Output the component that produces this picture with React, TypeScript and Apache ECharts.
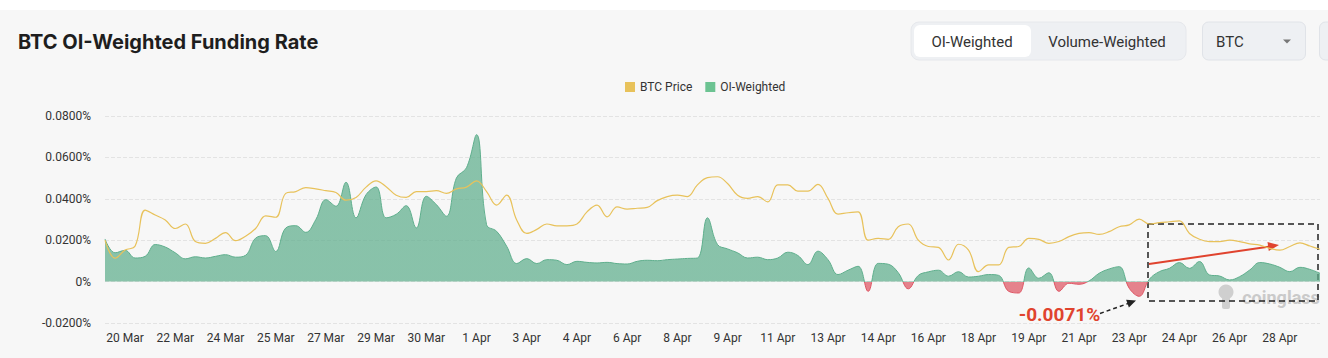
import React, { useEffect, useRef } from 'react';
import * as echarts from 'echarts';

// 8-hourly points, starting 20 Mar 00:00
const oiWeighted = [
  0.0206, 0.0139, 0.0151, 0.0114, 0.0122, 0.0179, 0.0167, 0.0139, 0.0110, 0.0120,
  0.0114, 0.0122, 0.0130, 0.0118, 0.0127, 0.0210, 0.0222, 0.0145, 0.0259, 0.0270,
  0.0238, 0.0300, 0.0396, 0.0364, 0.0480, 0.0308, 0.0420, 0.0457, 0.0308, 0.0325,
  0.0367, 0.0259, 0.0412, 0.0372, 0.0316, 0.0501, 0.0550, 0.0710, 0.0275, 0.0243,
  0.0171, 0.0087, 0.0111, 0.0087, 0.0106, 0.0103, 0.0082, 0.0098, 0.0093, 0.0090,
  0.0093, 0.0087, 0.0085, 0.0098, 0.0103, 0.0101, 0.0106, 0.0109, 0.0112, 0.0114,
  0.0308, 0.0179, 0.0158, 0.0139, 0.0114, 0.0118, 0.0106, 0.0114, 0.0142, 0.0126,
  0.0082, 0.0147, 0.0106, 0.0034, 0.0055, 0.0074, -0.0047, 0.0088, 0.0084, 0.0043,
  -0.0035, 0.0030, 0.0047, 0.0055, 0.0026, 0.0048, 0.0022, 0.0026, 0.0034, 0.0030,
  -0.0047, -0.0055, 0.0066, 0.0016, 0.0043, -0.0047, -0.0008, -0.0013, 0.0003, 0.0040,
  0.0061, 0.0072, -0.0032, -0.0071, 0.0011, 0.0048, 0.0064, 0.0092, 0.0064, 0.0097,
  0.0032, 0.0027, 0.0008, 0.0024, 0.0056, 0.0092, 0.0085, 0.0069, 0.0048, 0.0069,
  0.0059, 0.0040,
];

const btcPrice = [
  64200, 62200, 63100, 63550, 67550, 67000, 66450, 65500, 66000, 64050,
  63850, 64400, 65050, 64150, 64650, 65500, 66900, 66750, 69400, 69600,
  70050, 69900, 69700, 69500, 68650, 68950, 70100, 70800, 70150, 69200,
  68950, 69600, 69600, 69700, 69400, 69900, 70100, 70800, 69600, 68100,
  69200, 66450, 64950, 65400, 66000, 65800, 65800, 66000, 67350, 68100,
  66800, 67900, 67650, 67750, 67850, 68600, 69050, 69200, 69050, 70350,
  71150, 71250, 70500, 69200, 68850, 69050, 68450, 70350, 70350, 69650,
  69650, 70400, 68850, 67100, 67250, 67350, 64200, 64400, 64300, 65700,
  66000, 64200, 63500, 63400, 62000, 63750, 63100, 60700, 61450, 61450,
  63400, 63500, 64400, 64300, 63850, 64050, 64600, 64950, 65050, 64850,
  65150, 65700, 65900, 66550, 66000, 66150, 66250, 66350, 64950, 64300,
  64050, 64050, 64200, 64050, 63800, 63650, 63300, 63100, 63500, 63900,
  63550, 63200,
];

const monthNames = ['Mar', 'Apr'];
const monthLengths = [31, 30];
const hours = ['00:00', '08:00', '16:00'];
const categories = oiWeighted.map((_, i) => {
  let day = 20 + Math.floor(i / 3);
  let m = 0;
  if (day > monthLengths[0]) {
    day -= monthLengths[0];
    m = 1;
  }
  return `${day} ${monthNames[m]} ${hours[i % 3]}`;
});

const legendNames = ['BTC Price', 'OI-Weighted'];
const annotationText = '-0.0071%';

const App: React.FC = () => {
  const ref = useRef<HTMLDivElement>(null);

  useEffect(() => {
    if (!ref.current) return;
    const chart = echarts.init(ref.current, undefined, { renderer: 'svg' });

    const btnFont = '15px Roboto';
    const option: any = {
      animation: false,
      backgroundColor: '#f7f7f7',
      textStyle: { fontFamily: 'Roboto' },
      legend: {
        top: 81,
        left: 625,
        padding: 0,
        itemWidth: 10,
        itemHeight: 10,
        itemGap: 13,
        icon: 'rect',
        textStyle: { color: '#333', fontSize: 12, fontFamily: 'Roboto' },
        data: [
          { name: legendNames[0], itemStyle: { color: '#e8c25b' } },
          { name: legendNames[1], itemStyle: { color: '#6cc392' } },
        ],
      },
      grid: { left: 105, right: 8, top: 116, bottom: 35 },
      xAxis: {
        type: 'category',
        data: categories,
        boundaryGap: false,
        axisLine: { show: false },
        axisTick: { show: false },
        splitLine: { show: false },
        axisLabel: {
          interval: (i: number) => i % 5 === 2,
          formatter: (v: string) => v.split(' ').slice(0, 2).join(' '),
          color: '#333',
          fontSize: 12,
          fontFamily: 'Roboto',
          margin: 9,
        },
      },
      yAxis: [
        {
          type: 'value',
          min: -0.02,
          max: 0.08,
          interval: 0.02,
          axisLine: { show: false },
          axisTick: { show: false },
          axisLabel: {
            formatter: (v: number) => (Math.abs(v) < 1e-9 ? '0%' : v.toFixed(4) + '%'),
            color: '#333',
            fontSize: 12,
            fontFamily: 'Roboto',
            margin: 14,
          },
          splitLine: { lineStyle: { type: 'dashed', color: '#e3e3e3' } },
        },
        {
          type: 'value',
          min: 55000,
          max: 78000,
          show: false,
          splitLine: { show: false },
        },
      ],
      visualMap: {
        show: false,
        type: 'piecewise',
        seriesIndex: 0,
        dimension: 1,
        pieces: [
          { gte: -1, lt: 0, color: '#de5563' },
          { gte: 0, lte: 1, color: '#5eae8c' },
        ],
      },
      series: [
        {
          name: legendNames[1],
          type: 'line',
          data: oiWeighted,
          yAxisIndex: 0,
          smooth: 0.4,
          symbol: 'none',
          lineStyle: { width: 1 },
          areaStyle: { opacity: 0.72 },
          z: 2,
        },
        {
          name: legendNames[0],
          type: 'line',
          data: btcPrice,
          yAxisIndex: 1,
          smooth: 0.4,
          symbol: 'none',
          lineStyle: { width: 1.2, color: '#e8c25b' },
          itemStyle: { color: '#e8c25b' },
          z: 3,
        },
      ],
      graphic: [
        { type: 'rect', silent: true, shape: { x: 0, y: 0, width: 1328, height: 10 }, style: { fill: '#ffffff' } },
        {
          type: 'text', silent: true, x: 18, y: 42,
          style: { text: 'BTC OI-Weighted Funding Rate', font: 'bold 20px Inter', fill: '#1e1e1e', verticalAlign: 'middle' },
        },
        { type: 'rect', silent: true, shape: { x: 911, y: 22, width: 275, height: 38, r: 8 }, style: { fill: '#eef0f3', stroke: '#e6e8ec', lineWidth: 1 } },
        { type: 'rect', silent: true, shape: { x: 914, y: 25, width: 117, height: 32, r: 6 }, style: { fill: '#ffffff' } },
        { type: 'text', silent: true, x: 972, y: 41.5, style: { text: 'OI-Weighted', font: btnFont, fill: '#333', align: 'center', verticalAlign: 'middle' } },
        { type: 'text', silent: true, x: 1107, y: 41.5, style: { text: 'Volume-Weighted', font: btnFont, fill: '#333', align: 'center', verticalAlign: 'middle' } },
        { type: 'rect', silent: true, shape: { x: 1202.5, y: 22, width: 103, height: 38, r: 6 }, style: { fill: '#eef0f3', stroke: '#e0e3e8', lineWidth: 1 } },
        { type: 'text', silent: true, x: 1216, y: 41.5, style: { text: 'BTC', font: btnFont, fill: '#333', verticalAlign: 'middle' } },
        { type: 'polygon', silent: true, shape: { points: [[1283, 39.5], [1291, 39.5], [1287, 43.5]] }, style: { fill: '#777' } },
        { type: 'rect', silent: true, shape: { x: 1319.5, y: 22, width: 30, height: 38, r: 6 }, style: { fill: '#eef0f3', stroke: '#e0e3e8', lineWidth: 1 } },
        // watermark
        { type: 'circle', silent: true, shape: { cx: 1226, cy: 292, r: 7.5 }, style: { fill: '#cfcfcf' } },
        { type: 'rect', silent: true, shape: { x: 1222, y: 297, width: 8, height: 12, r: 2 }, style: { fill: '#cfcfcf' } },
        { type: 'text', silent: true, x: 1281, y: 297, style: { text: 'coinglass', font: 'bold 18px Roboto', fill: '#cacaca', align: 'center', verticalAlign: 'middle' } },
        // annotations
        { type: 'rect', silent: true, shape: { x: 1148, y: 224, width: 170, height: 77 }, style: { fill: 'none', stroke: '#222', lineWidth: 1.5, lineDash: [6, 4] } },
        { type: 'line', silent: true, shape: { x1: 1149, y1: 264, x2: 1270, y2: 246.5 }, style: { stroke: '#e0432e', lineWidth: 2 } },
        { type: 'polygon', silent: true, shape: { points: [[1279, 245], [1268.8, 251], [1267.5, 242.1]] }, style: { fill: '#e0432e' } },
        { type: 'line', silent: true, shape: { x1: 1100, y1: 313.5, x2: 1128, y2: 303.5 }, style: { stroke: '#222', lineWidth: 1.5, lineDash: [4, 3] } },
        { type: 'polygon', silent: true, shape: { points: [[1136, 300.5], [1128.9, 307.4], [1126.1, 299.8]] }, style: { fill: '#222' } },
        { type: 'text', silent: true, x: 1059.5, y: 314, style: { text: annotationText, font: 'bold 19px Roboto', fill: '#e0432e', align: 'center', verticalAlign: 'middle' } },
      ],
    };

    chart.setOption(option);
    return () => chart.dispose();
  }, []);

  return (
    <div
      ref={ref}
      style={{ position: 'fixed', left: 0, top: 0, width: 1328, height: 358 }}
    />
  );
};

export default App;
